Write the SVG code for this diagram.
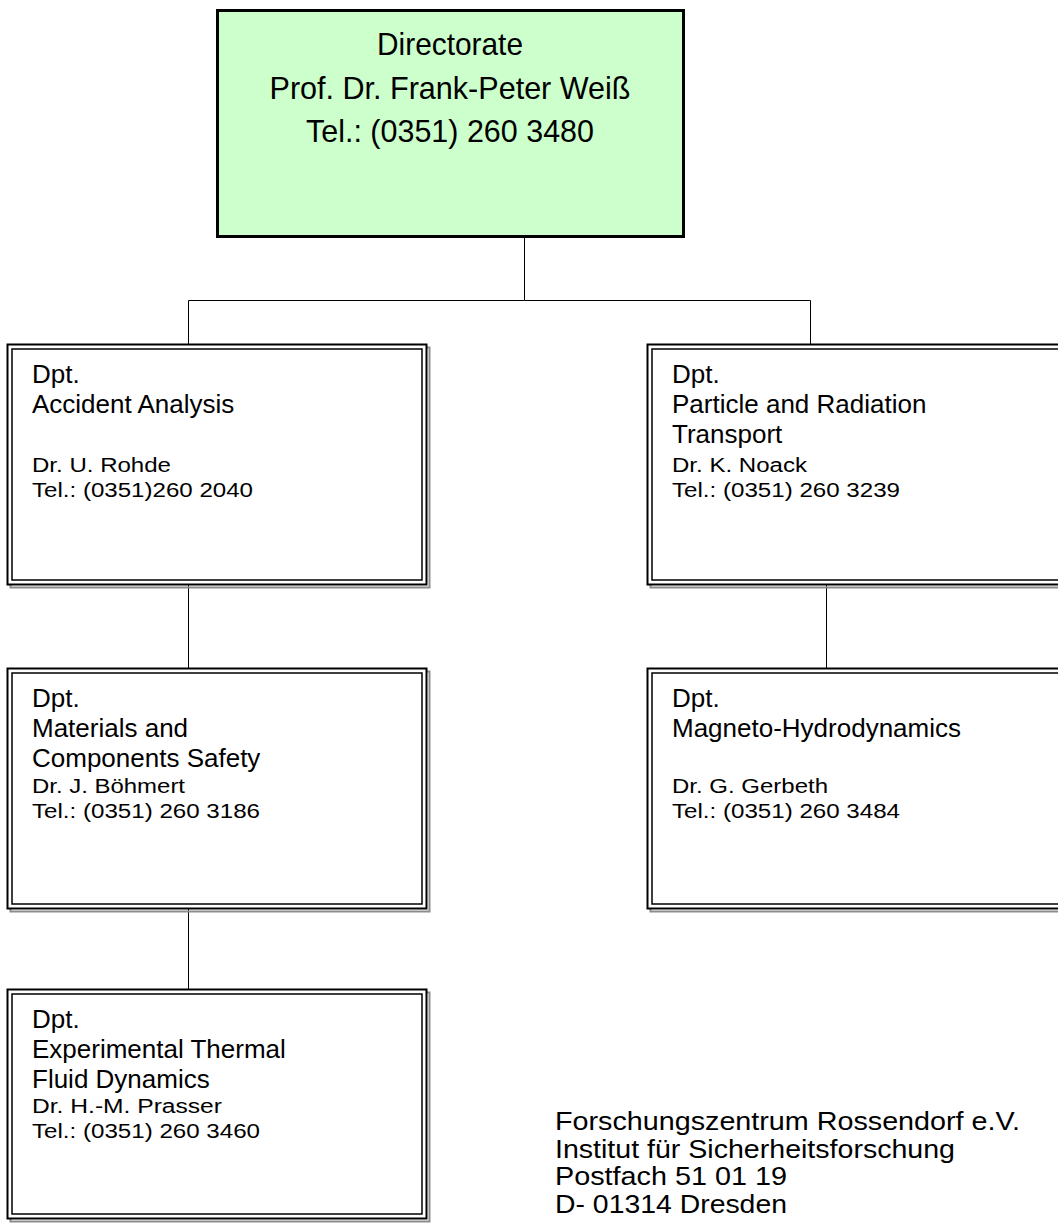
<svg xmlns="http://www.w3.org/2000/svg" width="1058" height="1225" viewBox="0 0 1058 1225">
  <style>
    text { font-family: "Liberation Sans", Arial, sans-serif; fill: #000; }
    .head { font-size: 32px; text-anchor: middle; }
    .main { font-size: 26px; }
    .small { font-size: 20px; }
    .addr { font-size: 26px; }
    .conn { stroke: #000; stroke-width: 1; fill: none; }
    .shadow { fill: none; stroke: #8c8c8c; stroke-width: 2; }
    .outer { fill: #fff; stroke: #000; stroke-width: 2; }
    .inner { fill: none; stroke: #000; stroke-width: 1.5; }
  </style>
  <rect width="1058" height="1225" fill="#fff"/>

  <g id="connectors">
    <path class="conn" d="M524.5 237 V300.5 H188.5 V344 M524.5 300.5 H810.5 V344"/>
    <path class="conn" d="M188.5 585 V668"/>
    <path class="conn" d="M188.5 909 V989"/>
    <path class="conn" d="M826.5 585 V668"/>
  </g>

  <g id="directorate">
    <rect x="217.5" y="10.5" width="466" height="226" fill="#ccffcc" stroke="#000" stroke-width="3"/>
    <text class="head" x="450" y="55" textLength="146" lengthAdjust="spacingAndGlyphs">Directorate</text>
    <text class="head" x="450" y="99" textLength="361" lengthAdjust="spacingAndGlyphs">Prof. Dr. Frank-Peter Weiß</text>
    <text class="head" x="450" y="142" textLength="288" lengthAdjust="spacingAndGlyphs">Tel.: (0351) 260 3480</text>
  </g>

  <g id="accident-analysis">
    <rect class="shadow" x="10.5" y="347.5" width="419" height="240"/>
    <rect class="outer" x="7.5" y="344.5" width="419" height="240"/>
    <rect class="inner" x="12" y="349" width="410" height="231"/>
    <text class="main" x="32" y="383">Dpt.</text>
    <text class="main" x="32" y="413">Accident Analysis</text>
    <text class="small" x="32" y="472" textLength="139" lengthAdjust="spacingAndGlyphs">Dr. U. Rohde</text>
    <text class="small" x="32" y="497" textLength="221" lengthAdjust="spacingAndGlyphs">Tel.: (0351)260 2040</text>
  </g>

  <g id="materials-components-safety">
    <rect class="shadow" x="10.5" y="671.5" width="419" height="240"/>
    <rect class="outer" x="7.5" y="668.5" width="419" height="240"/>
    <rect class="inner" x="12" y="673" width="410" height="231"/>
    <text class="main" x="32" y="707">Dpt.</text>
    <text class="main" x="32" y="737">Materials and</text>
    <text class="main" x="32" y="767">Components Safety</text>
    <text class="small" x="32" y="793" textLength="153" lengthAdjust="spacingAndGlyphs">Dr. J. Böhmert</text>
    <text class="small" x="32" y="818" textLength="228" lengthAdjust="spacingAndGlyphs">Tel.: (0351) 260 3186</text>
  </g>

  <g id="thermal-fluid-dynamics">
    <rect class="shadow" x="10.5" y="992.5" width="419" height="229"/>
    <rect class="outer" x="7.5" y="989.5" width="419" height="229"/>
    <rect class="inner" x="12" y="994" width="410" height="220"/>
    <text class="main" x="32" y="1028">Dpt.</text>
    <text class="main" x="32" y="1058">Experimental Thermal</text>
    <text class="main" x="32" y="1088">Fluid Dynamics</text>
    <text class="small" x="32" y="1113" textLength="190" lengthAdjust="spacingAndGlyphs">Dr. H.-M. Prasser</text>
    <text class="small" x="32" y="1138" textLength="228" lengthAdjust="spacingAndGlyphs">Tel.: (0351) 260 3460</text>
  </g>

  <g id="particle-radiation-transport">
    <rect class="shadow" x="650.5" y="347.5" width="419" height="240"/>
    <rect class="outer" x="647.5" y="344.5" width="419" height="240"/>
    <rect class="inner" x="652" y="349" width="410" height="231"/>
    <text class="main" x="672" y="383">Dpt.</text>
    <text class="main" x="672" y="413">Particle and Radiation</text>
    <text class="main" x="672" y="443">Transport</text>
    <text class="small" x="672" y="472" textLength="135" lengthAdjust="spacingAndGlyphs">Dr. K. Noack</text>
    <text class="small" x="672" y="497" textLength="228" lengthAdjust="spacingAndGlyphs">Tel.: (0351) 260 3239</text>
  </g>

  <g id="magneto-hydrodynamics">
    <rect class="shadow" x="650.5" y="671.5" width="419" height="240"/>
    <rect class="outer" x="647.5" y="668.5" width="419" height="240"/>
    <rect class="inner" x="652" y="673" width="410" height="231"/>
    <text class="main" x="672" y="707">Dpt.</text>
    <text class="main" x="672" y="737">Magneto-Hydrodynamics</text>
    <text class="small" x="672" y="793" textLength="156" lengthAdjust="spacingAndGlyphs">Dr. G. Gerbeth</text>
    <text class="small" x="672" y="818" textLength="228" lengthAdjust="spacingAndGlyphs">Tel.: (0351) 260 3484</text>
  </g>

  <g id="address">
    <text class="addr" x="555" y="1130" textLength="465" lengthAdjust="spacingAndGlyphs">Forschungszentrum Rossendorf e.V.</text>
    <text class="addr" x="555" y="1158" textLength="400" lengthAdjust="spacingAndGlyphs">Institut für Sicherheitsforschung</text>
    <text class="addr" x="555" y="1185" textLength="232" lengthAdjust="spacingAndGlyphs">Postfach 51 01 19</text>
    <text class="addr" x="555" y="1213" textLength="232" lengthAdjust="spacingAndGlyphs">D- 01314 Dresden</text>
  </g>
</svg>
